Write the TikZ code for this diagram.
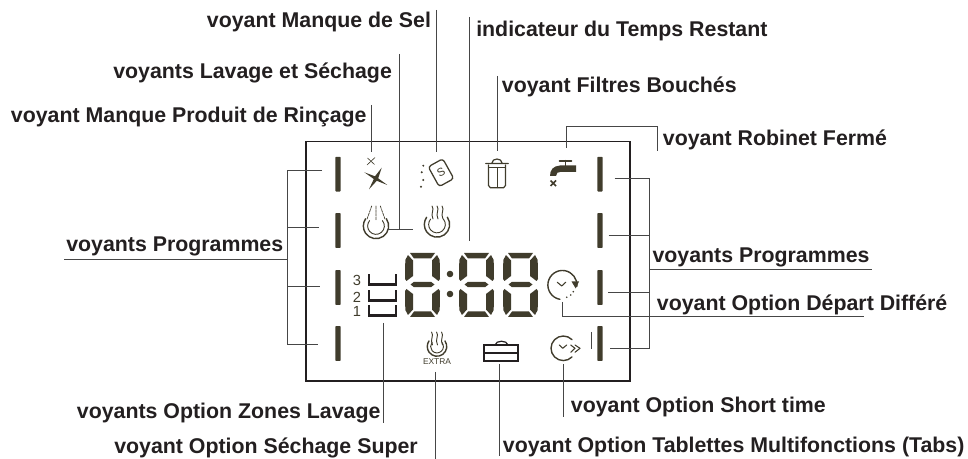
\documentclass[tikz,border=0pt]{standalone}
\usepackage{fontspec}
\setmainfont{Liberation Sans}
\usetikzlibrary{calc}
\definecolor{lcddark}{RGB}{64,60,44}
\definecolor{labelink}{RGB}{35,31,32}
\definecolor{leadgray}{RGB}{70,70,70}
\tikzset{
  lbl/.style={anchor=base west,inner sep=0pt,text=labelink,font=\fontsize{16pt}{18pt}\selectfont\bfseries},
  leader/.style={draw=leadgray,line width=.65pt},
  panel/.style={draw=labelink,line width=1.25pt,line join=miter},
  barled/.style={fill=lcddark,rounded corners=.5pt,inner sep=0pt,minimum width=3.9pt,minimum height=26pt},
  icon/.style={draw=lcddark,line width=1.05pt,line cap=round,line join=round},
  seg/.style={fill=lcddark,draw=none},
  zone/.style={draw=labelink,line width=1.7pt,line join=miter},
  numled/.style={inner sep=0pt,text=lcddark,font=\fontsize{11pt}{12pt}\selectfont}
}
\newcommand{\lcddigit}[1]{%
\begin{scope}[shift={(#1,253)}]
\fill[seg] (5,0)--(30,0)--(26,5.5)--(9,5.5)--cycle;
\fill[seg] (0.3,7)--(3,2)--(8,7.5)--(8,23)--(1.5,28)--(0,26)--cycle;
\fill[seg] (34.7,7)--(32,2)--(27,7.5)--(27,23)--(33.5,28)--(35,26)--cycle;
\fill[seg] (5.5,31.5)--(9,28.8)--(26,28.8)--(29.5,31.5)--(26,34.2)--(9,34.2)--cycle;
\fill[seg] (0.3,57)--(3,62)--(8,56.5)--(8,41)--(1.5,36)--(0,38)--cycle;
\fill[seg] (34.7,57)--(32,62)--(27,56.5)--(27,41)--(33.5,36)--(35,38)--cycle;
\fill[seg] (5,64)--(30,64)--(26,58.5)--(9,58.5)--cycle;
\end{scope}}
\newcommand{\ringicon}[3]{%
\draw[icon] ([shift={(35:#3pt)}]#1,#2) arc[start angle=35,end angle=-215,radius=#3pt];
\draw[icon,line width=.7pt] ([shift={(40:.66*#3pt)}]#1,#2) arc[start angle=40,end angle=-220,radius=.66*#3 pt];}
\newcommand{\steamicon}[2]{%
\draw[icon,line width=.7pt] (#1-5,#2) .. controls (#1-2,#2+4) and (#1-7,#2+7) .. (#1-4,#2+13);
\draw[icon,line width=.7pt] (#1,#2) .. controls (#1+3,#2+4) and (#1-2,#2+7) .. (#1+1,#2+13);
\draw[icon,line width=.7pt] (#1+5,#2) .. controls (#1+8,#2+4) and (#1+3,#2+7) .. (#1+6,#2+13);}
\begin{document}
\begin{tikzpicture}[x=.75pt,y=-.75pt]
\useasboundingbox (0,0) rectangle (968,459);
\draw[panel] (306,141.5) rectangle (630,381);
\node[barled] (pl1) at (338,174.2) {};
\node[barled] (pl2) at (338,230.5) {};
\node[barled] (pl3) at (338,287.5) {};
\node[barled] (pl4) at (338,343.5) {};
\node[barled] (pr1) at (600,174.2) {};
\node[barled] (pr2) at (600,230.5) {};
\node[barled] (pr3) at (600,287.5) {};
\node[barled] (pr4) at (600,343.5) {};
\draw[leader] (591,332)--(591,349);
\fill[lcddark] (364.3,172.3)--(375,176.3)--(381.7,167.7)--(378.2,178.3)--(387.3,185)--(376.8,180.8)--(369,189.3)--(373.8,179)--cycle;
\draw[icon,line width=.45pt] (367.5,158)--(374.5,164.5) (375,157.5)--(367,165);
\node[draw=lcddark,line width=.95pt,rounded corners=2.2pt,rotate=29,minimum width=12.5pt,minimum height=17pt,inner sep=0pt,text=lcddark,font=\fontsize{8.5pt}{9pt}\selectfont] (salt) at (441,172.7) {S};
\fill[lcddark] (423.3,165.7) circle[radius=1.1] (421.7,172.3) circle[radius=1.1] (423.3,180) circle[radius=1.1] (421,186.7) circle[radius=1.1];
\ringicon{376}{226}{9.5}
\draw[icon,line width=.55pt,dash pattern=on 2pt off .8pt] (371.7,206)--(366.7,220) (376,206)--(376,220) (380.3,206)--(385.3,220);
\ringicon{437}{224.5}{9.5}
\steamicon{437}{206}
\draw[icon,line width=.9pt] (488.5,165)--(488.5,185.5)--(490.5,187.8)--(503.5,187.8)--(505.5,185.5)--(505.5,165);
\draw[icon,line width=.9pt] (485.7,163.5)--(508.3,163.5) (491.7,163.5) .. controls (492,157.5) and (502,157.5) .. (502.3,163.5);
\draw[icon,line width=.6pt] (488.5,167.5)--(505.5,167.5) (497,167.5)--(497,187.8);
\draw[icon,line width=1.3pt] (559.5,160.7)--(571.5,160.7) (565.5,160.7)--(565.5,166);
\fill[lcddark] (576,165.5)--(560,165.5) .. controls (553,166) and (550,170) .. (550,176)--(556,176) .. controls (556,173) and (558,171.8) .. (561,171.8)--(576,171.8)--cycle;
\draw[lcddark,line width=1.2pt] (550.5,180.5)--(556,186) (556,180.5)--(550.5,186);
\lcddigit{405}
\lcddigit{459}
\lcddigit{503}
\fill[lcddark] (450,274) circle[radius=3.3] (450,294) circle[radius=3.3];
\node[numled] (n3) at (357,280) {3};
\node[numled] (n2) at (357,297) {2};
\node[numled] (n1) at (357,311) {1};
\draw[zone] (369,274.5)--(369,284.5)--(396,284.5)--(396,274.5);
\draw[zone] (369,290.5)--(369,300.5)--(396,300.5)--(396,290.5);
\draw[zone] (369,305.5)--(369,315.5)--(396,315.5)--(396,305.5);
\ringicon{437}{346.5}{7.3}
\steamicon{436.5}{332}
\node[inner sep=0pt,text=lcddark,font=\fontsize{6.3pt}{7pt}\selectfont] (xtra) at (437,362) {EXTRA};
\draw[labelink,line width=1.5pt,line join=miter] (484,345.5) rectangle (518,361) (484,353.5)--(518,353.5);
\draw[labelink,line width=.9pt] (495,345) .. controls (496,340) and (507,340) .. (508,345);
\draw[icon] ([shift={(-100:10.9pt)}]562.4,285) arc[start angle=-100,end angle=-365,radius=10.9pt];
\fill[lcddark] (571.5,281.5)--(579,281.5)--(575.7,288.5)--cycle;
\fill[lcddark] (573.3,291.7) circle[radius=.9] (570.7,295) circle[radius=.9] (566.7,297.3) circle[radius=.9];
\draw[icon,line width=.8pt] (557.3,282.3)--(561.7,286)--(565.7,282.3);
\draw[icon] ([shift={(-45:9.2pt)}]563.3,348.3) arc[start angle=-45,end angle=-315,radius=9.2pt];
\draw[icon,line width=.8pt] (559.3,345)--(562.7,348.3)--(566.7,345);
\draw[icon,line width=.8pt] (570.7,345)--(575,348.3)--(570.7,352.3) (575,345)--(580,348.3)--(575,352.3);
\node[lbl] (sel) at (206.7,28) {voyant Manque de Sel};
\node[lbl] (lav) at (113,79) {voyants Lavage et Séchage};
\node[lbl] (rin) at (10.7,123) {voyant Manque Produit de Rinçage};
\node[lbl] (tps) at (476,36.7) {indicateur du Temps Restant};
\node[lbl] (fil) at (501.7,93) {voyant Filtres Bouchés};
\node[lbl] (rob) at (662.7,146) {voyant Robinet Fermé};
\node[lbl] (prl) at (66,252) {voyants Programmes};
\node[lbl] (prr) at (652.3,263) {voyants Programmes};
\node[lbl] (dep) at (656.7,311) {voyant Option Départ Différé};
\node[lbl] (sho) at (570.7,412.7) {voyant Option Short time};
\node[lbl] (zon) at (76.7,419) {voyants Option Zones Lavage};
\node[lbl] (sup) at (114,454) {voyant Option Séchage Super};
\node[lbl] (tab) at (502.7,452.7) {voyant Option Tablettes Multifonctions (Tabs)};
\coordinate (selA) at (436.7,10);
\coordinate (selB) at (436.7,152);
\coordinate (lavA) at (399,54);
\coordinate (lavB) at (399,229);
\coordinate (lavL) at (388,229);
\coordinate (lavR) at (413,229);
\coordinate (rinA) at (371,105);
\coordinate (rinB) at (371,152);
\coordinate (tpsA) at (469.5,17);
\coordinate (tpsB) at (469.5,241);
\coordinate (filA) at (497.3,76);
\coordinate (filB) at (497.3,151);
\coordinate (robA) at (566.7,148);
\coordinate (robB) at (566.7,126);
\coordinate (robC) at (657,126);
\coordinate (robD) at (657,151);
\draw[leader] (selA)--(selB);
\draw[leader] (lavA)--(lavB);
\draw[leader] (lavL)--(lavR);
\draw[leader] (rinA)--(rinB);
\draw[leader] (tpsA)--(tpsB);
\draw[leader] (filA)--(filB);
\draw[leader] (robA)--(robB)--(robC)--(robD);
\coordinate (ulA) at (64,259);
\coordinate (ulB) at (287.7,259);
\coordinate (ltop) at (287.7,170);
\coordinate (lbot) at (287.7,344.7);
\coordinate (lt1) at (322,170);
\coordinate (lt2) at (319,227.7);
\coordinate (lt2a) at (287.7,227.7);
\coordinate (lt3) at (320,286.7);
\coordinate (lt3a) at (287.7,286.7);
\coordinate (lt4) at (318,344.7);
\draw[leader] (ulA)--(ulB);
\draw[leader] (lt1)--(ltop)--(lbot)--(lt4);
\draw[leader] (lt2a)--(lt2);
\draw[leader] (lt3a)--(lt3);
\coordinate (urA) at (649.7,269.7);
\coordinate (urB) at (872,269.7);
\coordinate (rtop) at (649.7,178);
\coordinate (rbot) at (649.7,348.7);
\coordinate (rt1) at (614.5,178);
\coordinate (rt2) at (608.5,235.7);
\coordinate (rt2a) at (649.7,235.7);
\coordinate (rt3) at (608,292);
\coordinate (rt3a) at (649.7,292);
\coordinate (rt4) at (610,348.7);
\draw[leader] (urA)--(urB);
\draw[leader] (rt1)--(rtop)--(rbot)--(rt4);
\draw[leader] (rt2)--(rt2a);
\draw[leader] (rt3)--(rt3a);
\coordinate (depA) at (562,302);
\coordinate (depB) at (562,316.3);
\coordinate (depC) at (864,316.3);
\draw[leader] (depA)--(depB)--(depC);
\coordinate (shoA) at (563.4,364);
\coordinate (shoB) at (563.4,417);
\coordinate (tabA) at (499.7,364);
\coordinate (tabB) at (499.7,456);
\coordinate (zonA) at (383,323);
\coordinate (zonB) at (383,423);
\coordinate (supA) at (435.7,372);
\coordinate (supB) at (435.7,459);
\draw[leader] (shoA)--(shoB);
\draw[leader] (tabA)--(tabB);
\draw[leader] (zonA)--(zonB);
\draw[leader] (supA)--(supB);
\end{tikzpicture}
\end{document}
